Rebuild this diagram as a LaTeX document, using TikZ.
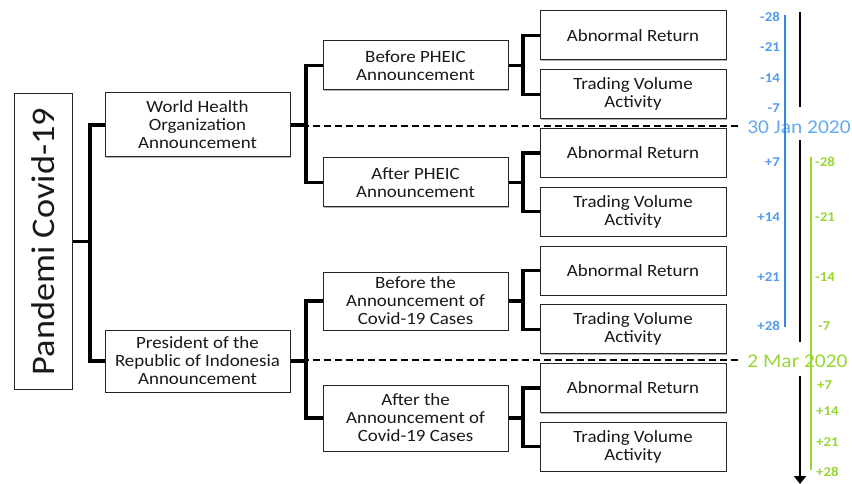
\documentclass[tikz,border=0pt]{standalone}
\usepackage{fontspec}
\setmainfont{Carlito}
\newfontfamily\widefont[FakeStretch=1.1]{Carlito}
\usetikzlibrary{shadows,arrows.meta}
\definecolor{tlblue}{RGB}{50,135,235}
\definecolor{tlbluetxt}{RGB}{80,155,235}
\definecolor{tlbluelight}{RGB}{100,170,240}
\definecolor{tlgreen}{RGB}{150,215,50}
\begin{document}
\begin{tikzpicture}[x=1pt,y=-1pt,
  box/.style={draw=black!85, line width=1pt, fill=white, inner sep=0pt, align=center,
    font=\widefont\fontsize{17.2}{18}\selectfont, text=black!90,
    drop shadow={shadow xshift=1pt,shadow yshift=-1pt,opacity=0.3,fill=black}},
  leaf/.style={box, minimum width=186pt, minimum height=49pt},
  mid/.style={box, minimum width=185pt},
  conn/.style={line width=3.2pt, line join=miter},
  sep/.style={line width=1.6pt, dash pattern=on 7pt off 4pt},
  bluelbl/.style={text=tlbluetxt, font=\widefont\bfseries\fontsize{13.5}{13.5}\selectfont, anchor=east, inner sep=0pt},
  greenlbl/.style={text=tlgreen, font=\widefont\bfseries\fontsize{13.5}{13.5}\selectfont, anchor=west, inner sep=0pt},
  datelbl/.style={font=\widefont\fontsize{19.5}{20}\selectfont, inner sep=0pt}]
\useasboundingbox (0,0) rectangle (852,484);

% root
\node[box, minimum width=58pt, minimum height=295pt] (p) at (43,241.5)
  {\rotatebox{90}{\fontsize{33}{33}\selectfont Pandemi Covid-19}};

% level 1
\node[mid, minimum height=64pt] (who) at (197.5,125) {World Health\\Organization\\Announcement};
\node[mid, minimum height=62pt] (pres) at (197.5,361) {President of the\\Republic of Indonesia\\Announcement};

% level 2
\node[mid, minimum height=49pt] (bp) at (415.5,65.5) {Before PHEIC\\Announcement};
\node[mid, minimum height=49pt] (ap) at (415.5,182.5) {After PHEIC\\Announcement};
\node[mid, minimum height=58pt] (ba) at (415.5,301) {Before the\\Announcement of\\Covid-19 Cases};
\node[mid, minimum height=66pt] (aa) at (415.5,418) {After the\\Announcement of\\Covid-19 Cases};

% leaves
\node[leaf] (l1) at (633,35.5) {Abnormal Return};
\node[leaf] (l2) at (633,94.25) {Trading Volume\\Activity};
\node[leaf] (l3) at (633,153) {Abnormal Return};
\node[leaf] (l4) at (633,211.75) {Trading Volume\\Activity};
\node[leaf] (l5) at (633,270.5) {Abnormal Return};
\node[leaf] (l6) at (633,329.25) {Trading Volume\\Activity};
\node[leaf] (l7) at (633,388) {Abnormal Return};
\node[leaf] (l8) at (633,446.75) {Trading Volume\\Activity};

% junction coordinates
\coordinate (t0) at (90,0);
\coordinate (t1) at (306,0);
\coordinate (t2) at (523,0);

% connectors
\draw[conn] (p.east) -- (p.east -| t0);
\draw[conn] (who.west) -- (who.west -| t0) |- (pres.west);
\draw[conn] (who.east) -- (who.east -| t1);
\draw[conn] (bp.west) -- (bp.west -| t1) |- (ap.west);
\draw[conn] (pres.east) -- (pres.east -| t1);
\draw[conn] (ba.west) -- (ba.west -| t1) |- (aa.west);
\draw[conn] (bp.east) -- (bp.east -| t2);
\draw[conn] (l1.west) -- (l1.west -| t2) |- (l2.west);
\draw[conn] (ap.east) -- (ap.east -| t2);
\draw[conn] (l3.west) -- (l3.west -| t2) |- (l4.west);
\draw[conn] (ba.east) -- (ba.east -| t2);
\draw[conn] (l5.west) -- (l5.west -| t2) |- (l6.west);
\draw[conn] (aa.east) -- (aa.east -| t2);
\draw[conn] (l7.west) -- (l7.west -| t2) |- (l8.west);

% dashed separators
\coordinate (d1) at (741,126);
\coordinate (d2) at (741,360);
\draw[sep] (who.east |- d1) -- (d1);
\draw[sep] (pres.east |- d2) -- (d2);

% date labels
\node[datelbl, text=tlbluelight] (jan) at (799,127) {30 Jan 2020};
\node[datelbl, text=tlgreen] (mar) at (797.5,361) {2 Mar 2020};

% timeline lines
\coordinate (b0) at (785,15);  \coordinate (b1) at (785,327);
\coordinate (g0) at (811,157); \coordinate (g1) at (811,470);
\draw[tlblue, line width=2.5pt] (b0) -- (b1);
\draw[tlgreen, line width=2.5pt] (g0) -- (g1);
\coordinate (k0) at (800,12);  \coordinate (k1) at (800,107);
\coordinate (k2) at (800,140); \coordinate (k3) at (800,342);
\coordinate (k4) at (800,376); \coordinate (k5) at (800,484);
\draw[line width=2pt] (k0) -- (k1);
\draw[line width=2pt] (k2) -- (k3);
\draw[line width=2pt, -{Triangle[width=12pt,length=8pt]}] (k4) -- (k5);

% blue ticks
\node[bluelbl] (bm28) at (780,17) {-28};
\node[bluelbl] (bm21) at (780,47) {-21};
\node[bluelbl] (bm14) at (780,78) {-14};
\node[bluelbl] (bm7) at (780,108) {-7};
\node[bluelbl] (bp7) at (780,162) {+7};
\node[bluelbl] (bp14) at (780,217) {+14};
\node[bluelbl] (bp21) at (780,277) {+21};
\node[bluelbl] (bp28) at (780,326) {+28};

% green ticks
\node[greenlbl] (gm28) at (815,162) {-28};
\node[greenlbl] (gm21) at (815,217) {-21};
\node[greenlbl] (gm14) at (815,277) {-14};
\node[greenlbl] (gm7) at (818,326) {-7};
\node[greenlbl] (gp7) at (817,385) {+7};
\node[greenlbl] (gp14) at (816,411) {+14};
\node[greenlbl] (gp21) at (816,442) {+21};
\node[greenlbl] (gp28) at (816,472) {+28};
\end{tikzpicture}
\end{document}
